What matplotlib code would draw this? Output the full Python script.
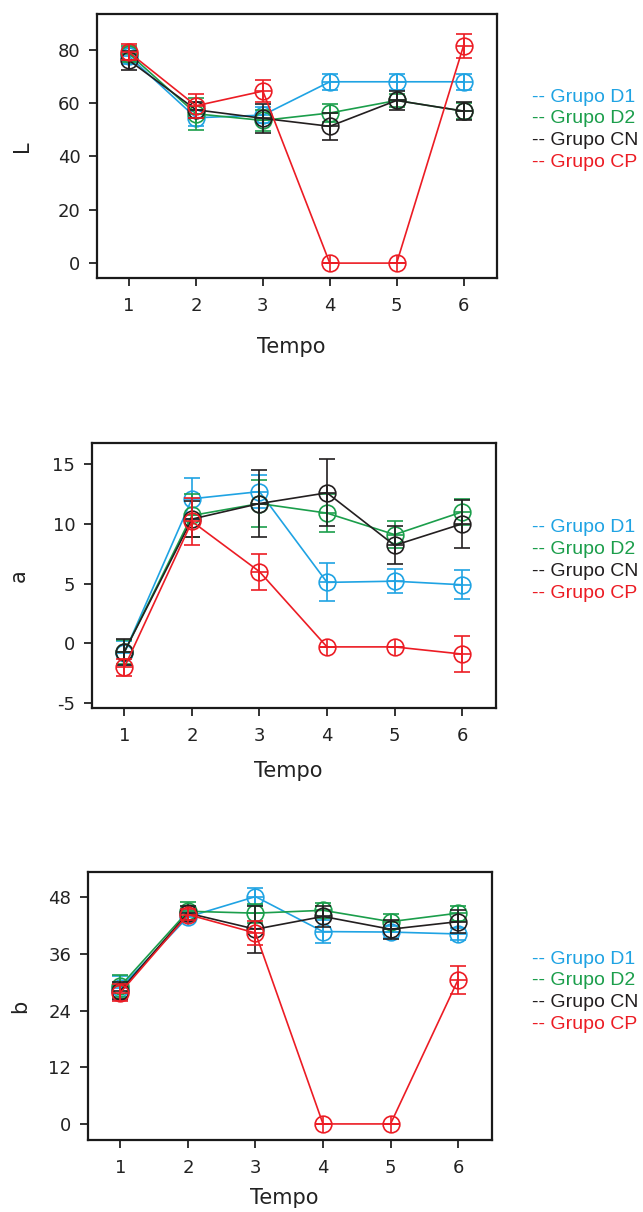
import matplotlib.pyplot as plt

tempo = [1, 2, 3, 4, 5, 6]
groups = ["Grupo D1", "Grupo D2", "Grupo CN", "Grupo CP"]
colors = ["#1fa3e3", "#1b9e4b", "#231f20", "#ec1c24"]

# L: mean and error for D1, D2, CN, CP
L_mean = [
    [77.5, 54.5, 55.5, 68.0, 68.0, 68.0],
    [78.5, 56.0, 53.5, 56.3, 61.0, 57.0],
    [76.0, 57.5, 54.3, 51.3, 61.0, 57.0],
    [79.0, 59.0, 64.5, 0.0, 0.0, 81.5],
]
L_err = [
    [3.0, 3.0, 3.0, 3.0, 3.0, 3.0],
    [3.0, 6.0, 4.0, 3.5, 2.5, 3.0],
    [3.6, 3.0, 5.5, 5.0, 3.5, 3.5],
    [3.0, 4.5, 4.0, 0.0, 0.0, 4.5],
]

# a*
a_mean = [
    [-0.8, 12.1, 12.7, 5.1, 5.2, 4.9],
    [-0.7, 10.7, 11.7, 10.9, 9.1, 11.0],
    [-0.7, 10.4, 11.7, 12.6, 8.2, 10.0],
    [-2.0, 10.2, 6.0, -0.3, -0.3, -0.9],
]
a_err = [
    [1.0, 1.7, 1.4, 1.6, 1.0, 1.2],
    [1.0, 1.8, 2.0, 1.6, 1.1, 1.1],
    [1.1, 1.5, 2.8, 2.8, 1.6, 2.0],
    [0.7, 2.0, 1.5, 0.0, 0.0, 1.5],
]

# b*
b_mean = [
    [28.8, 43.8, 48.1, 40.7, 40.6, 40.2],
    [29.2, 45.0, 44.6, 45.2, 42.8, 44.6],
    [28.2, 44.6, 41.2, 43.9, 41.2, 42.8],
    [27.8, 44.3, 40.4, 0.0, 0.0, 30.5],
]
b_err = [
    [2.5, 1.0, 1.8, 2.5, 1.2, 1.2],
    [2.3, 2.0, 2.0, 1.6, 1.6, 1.6],
    [1.8, 1.5, 5.0, 2.2, 2.0, 2.5],
    [1.8, 1.2, 2.6, 0.0, 0.0, 3.0],
]

panels = [
    # label, means, errors, yticks, ylim, axes rect, ylabel x, xlabel y, legend top y
    ("L", L_mean, L_err, [0, 20, 40, 60, 80], (-5.6, 93.4),
     [0.1509, 0.7706, 0.622, 0.2178], -0.1625, -0.223, 97),
    ("a", a_mean, a_err, [-5, 0, 5, 10, 15], (-5.42, 16.76),
     [0.1431, 0.4158, 0.628, 0.2186], -0.157, -0.200, 528),
    ("b", b_mean, b_err, [0, 12, 24, 36, 48], (-3.4, 53.3),
     [0.1369, 0.0594, 0.628, 0.2211], -0.1436, -0.180, 959),
]

fig = plt.figure(figsize=(6.43, 12.12), dpi=100)

for ylab, means, errs, yticks, ylim, rect, ylx, xly, leg_y in panels:
    ax = fig.add_axes(rect)
    for i in range(len(groups)):
        c = colors[i]
        ax.errorbar(tempo, means[i], yerr=errs[i], color=c, lw=1.2,
                    elinewidth=1.2, capsize=5.5, capthick=1.2, zorder=2 + i)
        ax.plot(tempo, means[i], "o", ms=12, mfc="none", mec=c, mew=1.2,
                zorder=2 + i)
        ax.plot(tempo, means[i], "+", ms=12, color=c, mew=1.2, zorder=2 + i)

    ax.set_xlim(0.52, 6.5)
    ax.set_ylim(*ylim)
    ax.set_xticks(tempo)
    ax.set_yticks(yticks)
    ax.set_yticklabels([str(t) for t in yticks])
    ax.tick_params(direction="out", length=6, width=1.3, labelsize=13,
                   colors="#222222", pad=6)
    ax.tick_params(axis="x", pad=8)
    for s in ax.spines.values():
        s.set_linewidth(1.6)
        s.set_color("#1a1a1a")

    ax.set_ylabel(ylab, fontsize=15, color="#222222")
    ax.yaxis.set_label_coords(ylx, 0.5)
    ax.set_xlabel("Tempo", fontsize=15, color="#222222")
    ax.xaxis.set_label_coords(0.485, xly)

    # legend as coloured text to the right
    for i, g in enumerate(groups):
        y_px = leg_y + i * 21.7
        fig.text(532 / 643, 1 - y_px / 1212, "-- " + g, color=colors[i],
                 fontsize=14, family="Liberation Sans", va="center", ha="left")

fig.savefig("out.png", dpi=100)
